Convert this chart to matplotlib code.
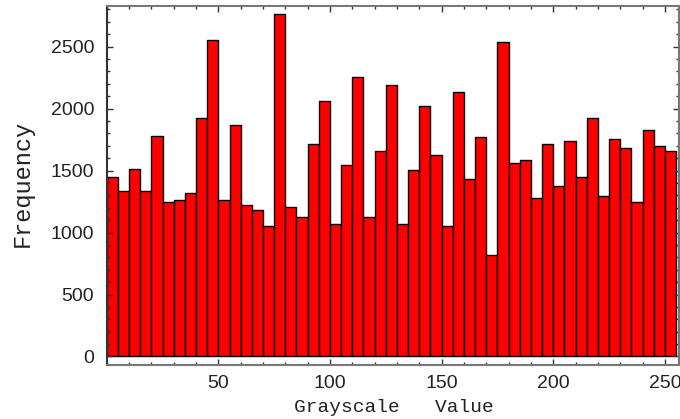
import numpy as np
import matplotlib
matplotlib.use('Agg')
import matplotlib.pyplot as plt
from matplotlib.ticker import MultipleLocator

# histogram of grayscale values, bins of width 5 from 0 to 255
bin_edges = np.arange(0, 256, 5)
frequency = [1451, 1336, 1511, 1336, 1777, 1245, 1261, 1320, 1927, 2557,
             1261, 1871, 1223, 1182, 1051, 2767, 1204, 1126, 1718, 2062,
             1067, 1548, 2253, 1126, 1661, 2191, 1067, 1508, 2022, 1624,
             1051, 2135, 1430, 1774, 819, 2536, 1564, 1583, 1277, 1718,
             1374, 1737, 1451, 1927, 1298, 1758, 1680, 1245, 1831, 1701,
             1661]
x_ticks = [50, 100, 150, 200, 250]
y_ticks = [0, 500, 1000, 1500, 2000, 2500]

W, H = 680, 419
fig = plt.figure(figsize=(W / 100, H / 100), dpi=100)
ax = fig.add_axes([106.7 / W, 54 / H, 572.3 / W, 359 / H])

ax.bar(bin_edges[:-1], frequency, width=5, align='edge',
       color='#ff0000', edgecolor='black', linewidth=1.0)

ax.set_xlim(0, 256.3)
ax.set_ylim(-68.6, 2828)

ax.set_xticks(x_ticks)
ax.set_yticks(y_ticks)
ax.xaxis.set_minor_locator(MultipleLocator(10))
ax.yaxis.set_minor_locator(MultipleLocator(100))

ax.tick_params(which='both', direction='in', top=True, right=True,
               color='#333333', width=1.0)
ax.tick_params(which='major', length=4.5, pad=7, labelsize=14)
ax.tick_params(which='minor', length=2.5)
ax.tick_params(axis='y', which='major', pad=9)
for lab in ax.get_xticklabels() + ax.get_yticklabels():
    lab.set_family('Liberation Sans')
    lab.set_color('#222222')

for side in ['top', 'bottom', 'right']:
    ax.spines[side].set_color('#777777')
    ax.spines[side].set_linewidth(1.5)
ax.spines['left'].set_color('#333333')
ax.spines['left'].set_linewidth(1.5)

fig.text(393.5 / W, 1 - 407 / H, 'Grayscale   Value', family='Liberation Mono',
         fontsize=14, ha='center', va='center', color='#222222')
fig.text(22 / W, 1 - 183 / H, 'Frequency', family='Liberation Mono',
         fontsize=17, rotation=90, ha='center', va='center', color='#222222')

fig.savefig('out.png', dpi=100)
